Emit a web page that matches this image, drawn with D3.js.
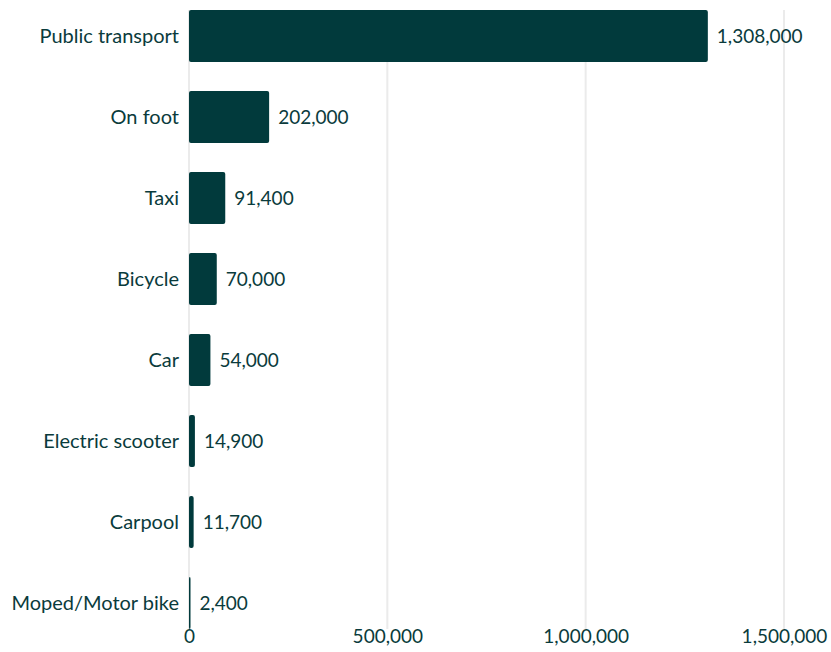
<!DOCTYPE html>
<html>
<head>
<meta charset="utf-8">
<script src="https://cdn.jsdelivr.net/npm/d3@7"></script>
<style>
  html, body { margin: 0; padding: 0; background: #ffffff; }
  svg { display: block; }
  text { font-family: Lato, "Noto Sans", sans-serif; fill: #0a3b3c; }
</style>
</head>
<body>
<svg id="chart" width="831" height="652"></svg>
<script>
// Ways people travel, by number of trips
const categories = ["Public transport", "On foot", "Taxi", "Bicycle", "Car",
                    "Electric scooter", "Carpool", "Moped/Motor bike"];
const trips = [1308000, 202000, 91400, 70000, 54000, 14900, 11700, 2400];
const tickValues = [0, 500000, 1000000, 1500000];

const barColor = "#013a3c";
const gridColor = "#ebebeb";

const svg = d3.select("#chart");
const margin = { left: 189, right: 47, top: -4.5, bottom: 8.5 };
const W = 831, H = 652;

const x = d3.scaleLinear()
  .domain([0, 1500000])
  .range([margin.left, W - margin.right]);

const y = d3.scaleBand()
  .domain(categories)
  .range([margin.top, H - margin.bottom])
  .paddingInner(0.36)
  .paddingOuter(0.18);

const fmt = d3.format(",");

// vertical gridlines
const gridTop = y(categories[0]);
const gridBottom = y(categories[categories.length - 1]) + y.bandwidth();
svg.append("g")
  .selectAll("line")
  .data(tickValues)
  .join("line")
  .attr("x1", d => x(d)).attr("x2", d => x(d))
  .attr("y1", gridTop).attr("y2", gridBottom)
  .attr("stroke", gridColor)
  .attr("stroke-width", 2);

// bottom axis labels
const axis = d3.axisBottom(x).tickValues(tickValues).tickFormat(fmt).tickSize(0).tickPadding(0);
const axisG = svg.append("g")
  .attr("transform", `translate(0,${gridBottom + 1})`)
  .call(axis);
axisG.select(".domain").remove();
axisG.selectAll("text")
  .attr("dy", "0.71em")
  .style("font-size", "19px")
  .style("font-family", "Lato, 'Noto Sans', sans-serif")
  .attr("fill", "#0a3b3c");

// bars
svg.append("g")
  .selectAll("rect")
  .data(categories)
  .join("rect")
  .attr("x", x(0))
  .attr("y", d => y(d))
  .attr("width", (d, i) => Math.max(1.5, x(trips[i]) - x(0)))
  .attr("height", y.bandwidth())
  .attr("rx", 2)
  .attr("fill", barColor);

// category labels
svg.append("g")
  .selectAll("text")
  .data(categories)
  .join("text")
  .attr("x", x(0) - 10)
  .attr("y", d => y(d) + y.bandwidth() / 2)
  .attr("dy", "0.35em")
  .attr("text-anchor", "end")
  .style("font-size", "20px")
  .text(d => d);

// value labels
svg.append("g")
  .selectAll("text")
  .data(categories)
  .join("text")
  .attr("x", (d, i) => x(0) + Math.max(1.5, x(trips[i]) - x(0)) + 9)
  .attr("y", d => y(d) + y.bandwidth() / 2)
  .attr("dy", "0.35em")
  .style("font-size", "19px")
  .text((d, i) => fmt(trips[i]));
</script>
</body>
</html>
